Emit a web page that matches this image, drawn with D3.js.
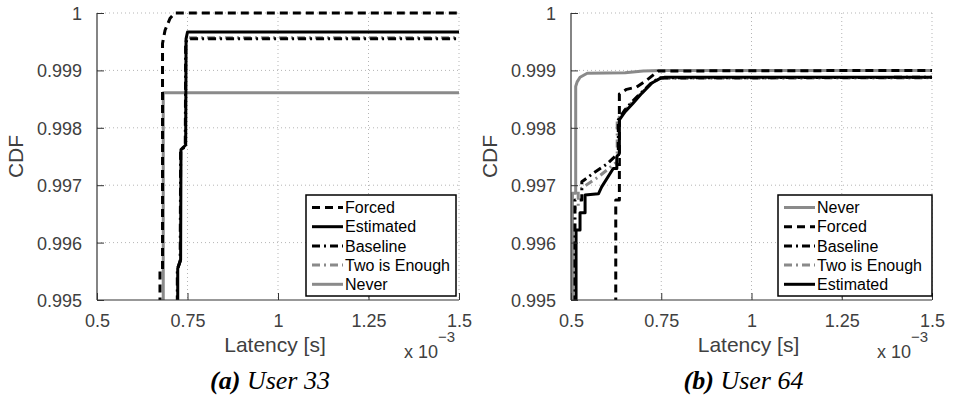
<!DOCTYPE html>
<html><head><meta charset="utf-8">
<script src="https://cdn.jsdelivr.net/npm/d3@7/dist/d3.min.js"></script>
<style>body{margin:0;background:#fff}svg{display:block}</style>
</head><body><svg id="c" width="953" height="402"></svg>
<script>
// ---- data (latency in units of 1e-3 s, CDF) ----
const xTicks = [0.5, 0.75, 1, 1.25, 1.5];
const yTicks = [0.995, 0.996, 0.997, 0.998, 0.999, 1];
const captions = ["User 33", "User 64"];
const captionTags = ["(a)", "(b)"];

const forced33 = [[0.674,0.994],[0.674,0.99553],[0.681,0.99553],[0.681,0.99947],[0.688,0.99970],[0.702,0.99991],[0.715,1.0],[1.5,1.0]];
const estimated33 = [[0.723,0.994],[0.723,0.99555],[0.731,0.99570],[0.732,0.99762],[0.745,0.99770],[0.746,0.99955],[0.750,0.99967],[1.5,0.99967]];
const baseline33 = [[0.722,0.994],[0.722,0.99553],[0.730,0.99568],[0.731,0.99760],[0.744,0.99768],[0.745,0.99948],[0.750,0.99955],[1.5,0.99955]];
const two33 = [[0.722,0.994],[0.722,0.99554],[0.730,0.99569],[0.731,0.99761],[0.744,0.99769],[0.745,0.99950],[0.750,0.99957],[1.5,0.99957]];
const never33 = [[0.683,0.994],[0.683,0.99861],[1.5,0.99861]];

const never64 = [[0.504,0.994],[0.504,0.99686],[0.513,0.99686],[0.513,0.99872],[0.517,0.99880],[0.525,0.99888],[0.545,0.99895],[0.650,0.99896],[0.700,0.99899],[0.750,0.99900],[1.5,0.99900]];
const forced64 = [[0.624,0.994],[0.624,0.99674],[0.634,0.99674],[0.634,0.99859],[0.654,0.99867],[0.682,0.99871],[0.710,0.99883],[0.742,0.99899],[1.5,0.99900]];
const baseline64 = [[0.511,0.994],[0.511,0.99674],[0.530,0.99674],[0.530,0.99706],[0.562,0.99721],[0.600,0.99737],[0.622,0.99750],[0.631,0.99750],[0.631,0.99814],[0.648,0.99830],[0.670,0.99846],[0.696,0.99862],[0.724,0.99879],[0.747,0.99887],[1.5,0.99888]];
const two64 = [[0.508,0.994],[0.508,0.99660],[0.520,0.99660],[0.520,0.99690],[0.534,0.99697],[0.575,0.99714],[0.622,0.99738],[0.628,0.99740],[0.628,0.99814],[0.648,0.99829],[0.670,0.99845],[0.696,0.99861],[0.724,0.99878],[0.747,0.99886],[1.5,0.99887]];
const estimated64 = [[0.514,0.994],[0.514,0.99622],[0.525,0.99622],[0.525,0.99652],[0.539,0.99652],[0.539,0.99683],[0.576,0.99685],[0.585,0.99697],[0.617,0.99729],[0.627,0.99729],[0.627,0.99750],[0.634,0.99755],[0.634,0.99814],[0.650,0.99828],[0.672,0.99843],[0.696,0.99860],[0.724,0.99878],[0.747,0.99886],[0.760,0.99888],[1.5,0.99888]];

const legend33 = ["Forced", "Estimated", "Baseline", "Two is Enough", "Never"];
const legend64 = ["Never", "Forced", "Baseline", "Two is Enough", "Estimated"];

// ---- styles ----
const GRAY = "#8a8a8a";
const styles = {
  "Forced":        {color:"#000", dash:"8,5", w:3},
  "Estimated":     {color:"#000", dash:null, w:3},
  "Baseline":      {color:"#000", dash:"8,4,2,4", w:3},
  "Two is Enough": {color:GRAY, dash:"8,4,2,4", w:3},
  "Never":         {color:GRAY, dash:null, w:3}
};

const panels = [
  {x0:97, x1:459, series:{"Forced":forced33,"Estimated":estimated33,"Baseline":baseline33,"Two is Enough":two33,"Never":never33},
   drawOrder:["Never","Two is Enough","Baseline","Estimated","Forced"], legend:legend33, lg:{x:306,y:195,w:150,h:101}, cap:0},
  {x0:571, x1:932, series:{"Never":never64,"Forced":forced64,"Baseline":baseline64,"Two is Enough":two64,"Estimated":estimated64},
   drawOrder:["Never","Forced","Two is Enough","Baseline","Estimated"], legend:legend64, lg:{x:778,y:195,w:154,h:101}, cap:1}
];

const svg = d3.select("#c");
const yTop = 13, yBot = 300;
const FONT = "'Liberation Sans', Arial, sans-serif";

panels.forEach((p, i) => {
  const x = d3.scaleLinear().domain([0.5, 1.5]).range([p.x0, p.x1]);
  const y = d3.scaleLinear().domain([0.995, 1]).range([yBot, yTop]);
  const g = svg.append("g");

  // grid
  g.append("g").selectAll("line").data(xTicks.slice(1)).join("line")
    .attr("x1", d => x(d)).attr("x2", d => x(d)).attr("y1", yTop).attr("y2", yBot)
    .attr("stroke", "#b5b5b5").attr("stroke-width", 1).attr("stroke-dasharray", "1,3");
  g.append("g").selectAll("line").data(yTicks.slice(1)).join("line")
    .attr("y1", d => y(d)).attr("y2", d => y(d)).attr("x1", p.x0).attr("x2", p.x1)
    .attr("stroke", "#b5b5b5").attr("stroke-width", 1).attr("stroke-dasharray", "1,3");

  // clip
  const cid = "clip" + i;
  svg.append("clipPath").attr("id", cid).append("rect")
    .attr("x", p.x0).attr("y", yTop - 3).attr("width", p.x1 - p.x0 + 3).attr("height", yBot - yTop + 3);

  const line = d3.line().x(d => x(d[0])).y(d => y(d[1]));
  const lg = g.append("g").attr("clip-path", `url(#${cid})`);
  p.drawOrder.forEach(name => {
    const s = styles[name];
    lg.append("path").datum(p.series[name]).attr("d", line)
      .attr("fill", "none").attr("stroke", s.color).attr("stroke-width", s.w)
      .attr("stroke-dasharray", s.dash).attr("stroke-linejoin", "round");
  });

  // axes
  const minorX = d3.range(0, 41).map(k => 0.5 + k * 0.025);
  const minorY = d3.range(0, 26).map(k => 0.995 + k * 0.0002);
  const xAxis = d3.axisBottom(x).tickValues(xTicks).tickSize(-7).tickPadding(14)
    .tickFormat(d3.format("~g"));
  const xMinor = d3.axisBottom(x).tickValues(minorX).tickSize(-3.5).tickFormat("");
  const yAxis = d3.axisLeft(y).tickValues(yTicks).tickSize(-7).tickPadding(15)
    .tickFormat(d => d === 1 ? "1" : d3.format(".3f")(d));
  const yMinor = d3.axisLeft(y).tickValues(minorY).tickSize(-3.5).tickFormat("");

  const gx = g.append("g").attr("transform", `translate(0,${yBot})`);
  gx.call(xMinor); gx.call(xAxis);
  const gy = g.append("g").attr("transform", `translate(${p.x0},0)`);
  gy.call(yMinor); gy.call(yAxis);
  [gx, gy].forEach(a => {
    a.selectAll(".domain").attr("stroke", "#333").attr("stroke-width", 1.2);
    a.selectAll(".tick line").attr("stroke", "#333").attr("stroke-width", 1);
    a.selectAll("text").attr("fill", "#404040").style("font-family", FONT).style("font-size", "18px");
  });
  gx.selectAll(".domain").attr("d", `M${p.x0},0H${p.x1}`);
  gy.selectAll(".domain").attr("d", `M0,${yBot}V${yTop}`);
  gy.selectAll("text").attr("dy", "0.36em");

  // axis labels
  g.append("text").attr("x", (p.x0 + p.x1) / 2 - 3).attr("y", 352).attr("text-anchor", "middle")
    .attr("fill", "#404040").style("font-family", FONT).style("font-size", "21px").text("Latency [s]");
  const ex = g.append("text").attr("x", p.x1 - 55).attr("y", 358).attr("fill", "#404040")
    .style("font-family", FONT).style("font-size", "18px");
  ex.append("tspan").text("x 10");
  ex.append("tspan").attr("dy", -16).style("font-size", "15px").text("\u22123");
  g.append("text").attr("transform", `translate(${p.x0 - 74},${(yTop + yBot) / 2}) rotate(-90)`)
    .attr("text-anchor", "middle").attr("fill", "#404040")
    .style("font-family", FONT).style("font-size", "21px").text("CDF");

  // legend
  const L = p.lg;
  const leg = g.append("g");
  leg.append("rect").attr("x", L.x).attr("y", L.y).attr("width", L.w).attr("height", L.h)
    .attr("fill", "#fff").attr("stroke", "#000").attr("stroke-width", 1.5);
  p.legend.forEach((name, k) => {
    const s = styles[name];
    const ry = L.y + 12.5 + k * 19.2;
    leg.append("line").attr("x1", L.x + 6).attr("x2", L.x + 37).attr("y1", ry).attr("y2", ry)
      .attr("stroke", s.color).attr("stroke-width", s.w).attr("stroke-dasharray", s.dash);
    leg.append("text").attr("x", L.x + 39).attr("y", ry).attr("dy", "0.36em")
      .attr("fill", "#000").style("font-family", FONT).style("font-size", "16px").text(name);
  });

  // caption
  const cap = svg.append("text").attr("x", (p.x0 + p.x1) / 2 - 8).attr("y", 389).attr("text-anchor", "middle")
    .style("font-family", "'Liberation Serif', 'DejaVu Serif', serif").style("font-size", "26px")
    .style("font-style", "italic").attr("fill", "#000");
  cap.append("tspan").style("font-weight", "bold").text(captionTags[p.cap]);
  cap.append("tspan").text(" " + captions[p.cap]);
});
</script></body></html>
